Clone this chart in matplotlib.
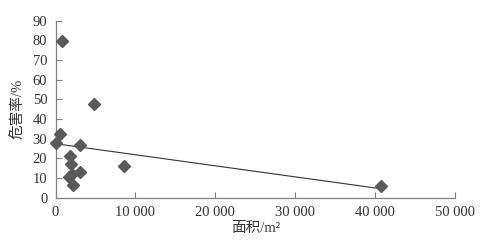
import numpy as np
import matplotlib
matplotlib.use("Agg")
import matplotlib.pyplot as plt
from matplotlib.ticker import FuncFormatter

plt.rcParams['font.family'] = ['Liberation Serif', 'Noto Sans CJK SC']

# 面积 (m2) vs 危害率 (%)
area = [790, 4850, 500, 0, 3090, 1800, 1960, 8540, 3090, 2050, 1710, 2130, 40740]
rate = [79.5, 47.8, 32.2, 27.8, 26.9, 21.2, 17.3, 15.9, 13.2, 12.2, 10.5, 6.5, 6.1]

x_ticks = [0, 10000, 20000, 30000, 40000, 50000]
y_ticks = [0, 10, 20, 30, 40, 50, 60, 70, 80, 90]

fig = plt.figure(figsize=(4.92, 2.42), dpi=100)
ax = fig.add_axes([0.113, 0.183, 0.812, 0.731])

ax.plot(area, rate, linestyle="none", marker="D", markersize=6,
        color="#5a5a5a", markeredgecolor="#5a5a5a", clip_on=False, zorder=3)

# linear trend line over the data range
k, b = np.polyfit(area, rate, 1)
xs = np.array([min(area), max(area)])
ax.plot(xs, k * xs + b, color="#333333", linewidth=0.8)

ax.set_xlim(0, 50000)
ax.set_ylim(0, 90)
ax.set_xticks(x_ticks)
ax.set_yticks(y_ticks)
ax.xaxis.set_major_formatter(FuncFormatter(lambda v, p: f"{int(v):,}".replace(",", " ")))

for s in ("top", "right"):
    ax.spines[s].set_visible(False)
for s in ("left", "bottom"):
    ax.spines[s].set_color("#808080")
    ax.spines[s].set_linewidth(0.9)
ax.tick_params(direction="in", length=4, width=0.8, color="#808080",
               labelsize=10.5, labelcolor="#333333", pad=6)

ax.set_xlabel("面积/m²", fontsize=10.5, color="#333333", labelpad=2)
ax.set_ylabel("危害率/%", fontsize=10.5, color="#333333", labelpad=6)

fig.savefig("out.png", dpi=100)
